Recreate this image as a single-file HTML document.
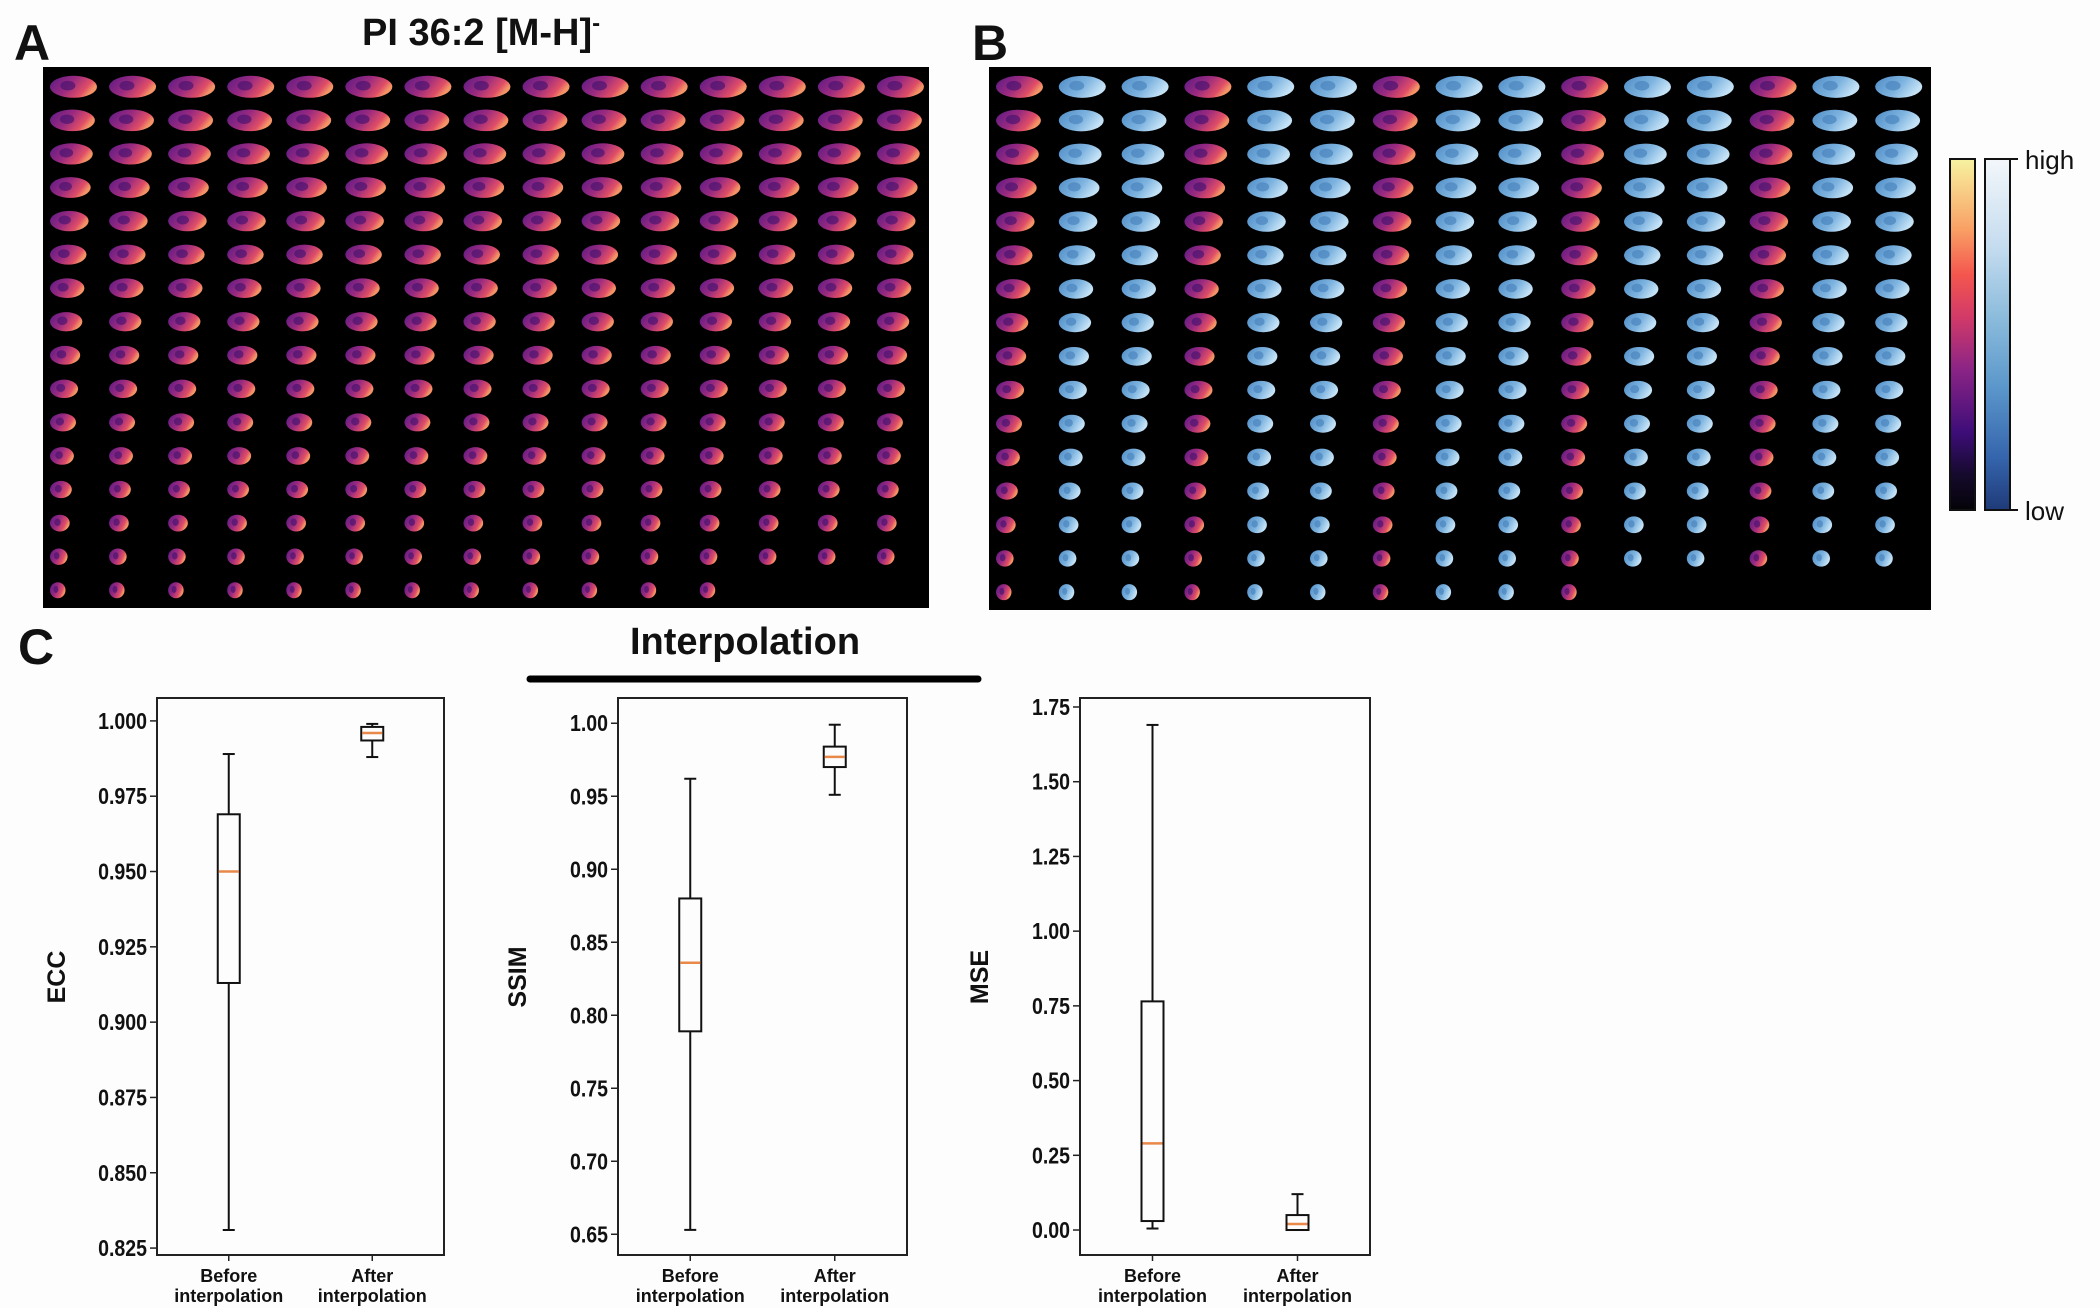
<!DOCTYPE html>
<html><head><meta charset="utf-8">
<style>
html,body{margin:0;padding:0;background:#fdfdfd;}
body{width:2100px;height:1308px;overflow:hidden;position:relative;font-family:"Liberation Sans",sans-serif;}
svg{position:absolute;left:0;top:0;}
</style></head>
<body>
<svg id="fig" width="2100" height="1308" viewBox="0 0 2100 1308">
<defs>
<linearGradient id="magma" x1="0" y1="0" x2="0" y2="1">
<stop offset="0" stop-color="#f7f3a0"/><stop offset="0.2" stop-color="#f9a065"/><stop offset="0.33" stop-color="#f4564e"/><stop offset="0.45" stop-color="#d23a68"/><stop offset="0.6" stop-color="#8b2486"/><stop offset="0.78" stop-color="#3d0d78"/><stop offset="0.9" stop-color="#150a2c"/><stop offset="1" stop-color="#050308"/>
</linearGradient>
<linearGradient id="blues" x1="0" y1="0" x2="0" y2="1">
<stop offset="0" stop-color="#f3f7fb"/><stop offset="0.25" stop-color="#c5dcef"/><stop offset="0.45" stop-color="#8cbcdc"/><stop offset="0.65" stop-color="#5b97cb"/><stop offset="0.85" stop-color="#3565ad"/><stop offset="1" stop-color="#1f3a78"/>
</linearGradient>
<linearGradient id="brainM" x1="0" y1="0" x2="1" y2="0.4">
<stop offset="0" stop-color="#5a1a86"/><stop offset="0.5" stop-color="#9a2a80"/><stop offset="0.85" stop-color="#e04e66"/><stop offset="1" stop-color="#f39466"/>
</linearGradient>
<linearGradient id="brainB" x1="0" y1="0" x2="1" y2="0.4">
<stop offset="0" stop-color="#4f8cc6"/><stop offset="0.6" stop-color="#7db3df"/><stop offset="1" stop-color="#c4e2f6"/>
</linearGradient>
</defs>
<g font-weight="bold" fill="#111">
<text x="14" y="60" font-size="50">A</text>
<text x="362" y="45" font-size="38">PI 36:2 [M-H]<tspan dy="-14" font-size="24">-</tspan></text>
<text x="972" y="60" font-size="50">B</text>
<text x="18" y="664" font-size="50">C</text>
<text x="745" y="654" font-size="38" text-anchor="middle">Interpolation</text>
</g>
<line x1="530" y1="679" x2="978" y2="679" stroke="#000" stroke-width="7" stroke-linecap="round"/>
<rect x="43" y="67" width="886" height="541" fill="#000"/>
<rect x="989" y="67" width="942" height="543" fill="#000"/>
<g id="gridA"></g><g id="gridB"></g>
<rect x="1950" y="159" width="25" height="351" fill="url(#magma)" stroke="#111" stroke-width="2"/>
<rect x="1985" y="159" width="25" height="351" fill="url(#blues)" stroke="#111" stroke-width="2"/>
<line x1="2010" y1="159" x2="2018" y2="159" stroke="#111" stroke-width="2"/>
<line x1="2010" y1="510" x2="2018" y2="510" stroke="#111" stroke-width="2"/>
<text x="2025" y="169" font-size="26" fill="#111">high</text>
<text x="2025" y="520" font-size="26" fill="#111">low</text>
<g id="plots"></g>
</svg>
<script>
const NS="http://www.w3.org/2000/svg";
function mk(tag,attrs,parent){const e=document.createElementNS(NS,tag);for(const k in attrs)e.setAttribute(k,attrs[k]);parent.appendChild(e);return e;}

// Brain image grids
const rowsA=16, colsA=15, lastRowA=12;
const rowsB=16, colsB=15, lastRowB=10;
function drawGrid(g,x0,y0,w,h,rows,cols,lastRow,isB){
  const cw=w/cols, rh=h/rows;
  for(let r=0;r<rows;r++){
    const n=(r===rows-1)?lastRow:cols;
    for(let c=0;c<n;c++){
      const bw=47-r*2.1, bh=22-r*0.4;
      const cx=x0+c*cw+7+bw/2, cy=y0+r*rh+rh/2+1;
      const magma=!isB||c%3===0;
      const e=mk('ellipse',{cx:cx,cy:cy,rx:bw/2,ry:bh/2,fill:magma?'url(#brainM)':'url(#brainB)'},g);
      
      
      mk('ellipse',{cx:cx-bw*0.12,cy:cy-bh*0.05,rx:bw*0.16,ry:bh*0.22,fill:magma?'#4a1470':'#4a84bd','fill-opacity':0.7},g);
    }
  }
}
drawGrid(document.getElementById('gridA'),43,69,886,537,rowsA,colsA,lastRowA,false);
drawGrid(document.getElementById('gridB'),989,69,942,539,rowsB,colsB,lastRowB,true);

// Box plot data
const groups=["Before\ninterpolation","After\ninterpolation"];
const eccWhiskLo=[0.831,0.988], eccQ1=[0.913,0.9935], eccMed=[0.950,0.996], eccQ3=[0.969,0.998], eccWhiskHi=[0.989,0.999];
const ssimWhiskLo=[0.653,0.951], ssimQ1=[0.789,0.970], ssimMed=[0.836,0.977], ssimQ3=[0.880,0.984], ssimWhiskHi=[0.962,0.999];
const mseWhiskLo=[0.005,0.0], mseQ1=[0.03,0.0], mseMed=[0.29,0.02], mseQ3=[0.765,0.05], mseWhiskHi=[1.69,0.12];
const eccTicks=[0.825,0.850,0.875,0.900,0.925,0.950,0.975,1.000];
const ssimTicks=[0.65,0.70,0.75,0.80,0.85,0.90,0.95,1.00];
const mseTicks=[0.00,0.25,0.50,0.75,1.00,1.25,1.50,1.75];

const plots=[
 {name:'ecc',label:'ECC',x0:157,x1:444,ymin:0.8227,ymax:1.0076,ticks:eccTicks,dec:3,lo:eccWhiskLo,q1:eccQ1,med:eccMed,q3:eccQ3,hi:eccWhiskHi},
 {name:'ssim',label:'SSIM',x0:618,x1:907,ymin:0.6358,ymax:1.0173,ticks:ssimTicks,dec:2,lo:ssimWhiskLo,q1:ssimQ1,med:ssimMed,q3:ssimQ3,hi:ssimWhiskHi},
 {name:'mse',label:'MSE',x0:1080,x1:1370,ymin:-0.0836,ymax:1.7801,ticks:mseTicks,dec:2,lo:mseWhiskLo,q1:mseQ1,med:mseMed,q3:mseQ3,hi:mseWhiskHi}
];
const pg=document.getElementById('plots');
const yTop=698, yBot=1255;
plots.forEach(p=>{
  const g=mk('g',{},pg);
  
  
  const ys=v=>yBot-(v-p.ymin)/(p.ymax-p.ymin)*(yBot-yTop);
  const xs=i=>p.x0+(p.x1-p.x0)*(0.25+0.5*i);
  const frame=mk('rect',{x:p.x0,y:yTop,width:p.x1-p.x0,height:yBot-yTop,fill:'none',stroke:'#222','stroke-width':2},g);
  
  
  p.ticks.forEach(t=>{
    const y=ys(t);
    mk('line',{x1:p.x0-7,y1:y,x2:p.x0,y2:y,stroke:'#222','stroke-width':1.5},g);
    const tx=mk('text',{x:p.x0-10,y:y+8,'font-size':23,'font-weight':'bold','text-anchor':'end',fill:'#111',transform:`translate(${p.x0-10},0) scale(0.85,1) translate(${-(p.x0-10)},0)`},g);
    tx.textContent=t.toFixed(p.dec);
    
    
  });
  const yl=mk('text',{x:0,y:0,'font-size':25,'font-weight':'bold','text-anchor':'middle',fill:'#111',transform:`translate(${p.x0-92},977) rotate(-90)`},g);
  yl.textContent=p.label;
  
  
  groups.forEach((gname,i)=>{
    const x=xs(i), bw=22, cw=12;
    mk('line',{x1:x,y1:ys(p.lo[i]),x2:x,y2:ys(p.q1[i]),stroke:'#111','stroke-width':2},g);
    mk('line',{x1:x,y1:ys(p.q3[i]),x2:x,y2:ys(p.hi[i]),stroke:'#111','stroke-width':2},g);
    mk('line',{x1:x-cw/2,y1:ys(p.lo[i]),x2:x+cw/2,y2:ys(p.lo[i]),stroke:'#111','stroke-width':2},g);
    mk('line',{x1:x-cw/2,y1:ys(p.hi[i]),x2:x+cw/2,y2:ys(p.hi[i]),stroke:'#111','stroke-width':2},g);
    const b=mk('rect',{x:x-bw/2,y:ys(p.q3[i]),width:bw,height:Math.max(1,ys(p.q1[i])-ys(p.q3[i])),fill:'none',stroke:'#111','stroke-width':2},g);
    
    
    const m=mk('line',{x1:x-bw/2+1,y1:ys(p.med[i]),x2:x+bw/2-1,y2:ys(p.med[i]),stroke:'#e8894a','stroke-width':2.5},g);
    
    
    mk('line',{x1:x,y1:yBot,x2:x,y2:yBot+6,stroke:'#222','stroke-width':1.5},g);
    gname.split('\n').forEach((ln,k)=>{
      const t=mk('text',{x:x,y:yBot+27+k*20,'font-size':18,'font-weight':'bold','text-anchor':'middle',fill:'#111'},g);
      t.textContent=ln;
      
      
    });
  });
});
</script>
</body></html>
